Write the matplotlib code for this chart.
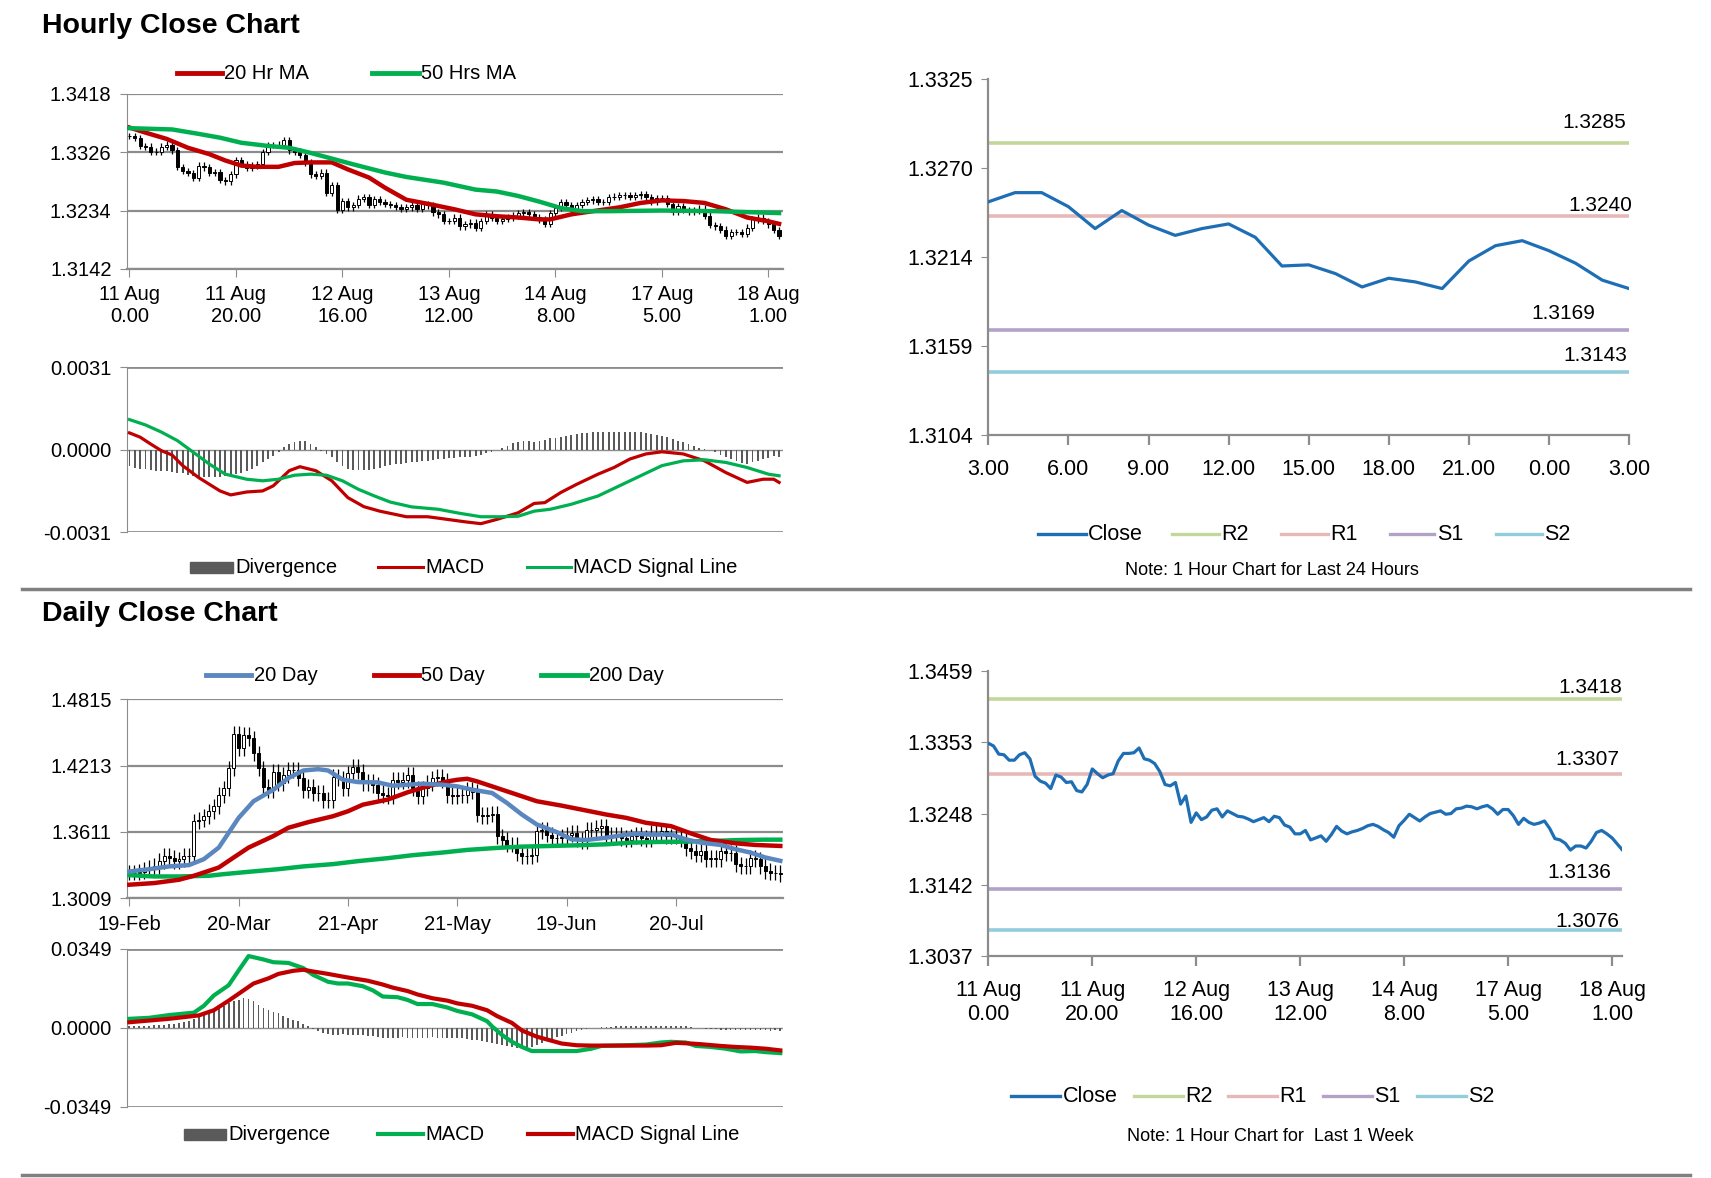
import numpy as np
import matplotlib.pyplot as plt
from matplotlib.lines import Line2D
from matplotlib.patches import Rectangle

plt.rcParams['font.family'] = ['Liberation Sans', 'DejaVu Sans']

# ---------------- data ----------------
# hourly closes, 11 Aug 0.00 -> 18 Aug ~3.00 (used by candles and the 1-week line)
hourly_close = [
    1.3352, 1.3348, 1.3336, 1.3335, 1.3327, 1.3327, 1.3335, 1.3338, 1.3329, 1.3303,
    1.3296, 1.3293, 1.3285, 1.3305, 1.3302, 1.3294, 1.3295, 1.3282, 1.3280, 1.3291,
    1.3314, 1.3307, 1.3301, 1.3305, 1.3307, 1.3326, 1.3337, 1.3337, 1.3338, 1.3345,
    1.3329, 1.3327, 1.3322, 1.3310, 1.3291, 1.3289, 1.3294, 1.3262, 1.3274, 1.3235,
    1.3249, 1.3239, 1.3243, 1.3253, 1.3255, 1.3243, 1.3252, 1.3248, 1.3244, 1.3243,
    1.3240, 1.3236, 1.3239, 1.3242, 1.3236, 1.3244, 1.3242, 1.3231, 1.3228, 1.3218,
    1.3218, 1.3223, 1.3209, 1.3212, 1.3215, 1.3207, 1.3217, 1.3229, 1.3222, 1.3218,
    1.3221, 1.3223, 1.3226, 1.3230, 1.3232, 1.3229, 1.3224, 1.3220, 1.3213, 1.3230,
    1.3238, 1.3247, 1.3242, 1.3237, 1.3243, 1.3248, 1.3250, 1.3252, 1.3247, 1.3248,
    1.3255, 1.3256, 1.3259, 1.3258, 1.3255, 1.3258, 1.3260, 1.3255, 1.3247, 1.3254,
    1.3254, 1.3245, 1.3232, 1.3241, 1.3235, 1.3232, 1.3234, 1.3237, 1.3226, 1.3211,
    1.3209, 1.3204, 1.3194, 1.3200, 1.3200, 1.3197, 1.3207, 1.3220, 1.3223, 1.3218,
    1.3212, 1.3203, 1.3194]

ma20_hr_x = [0, 3, 7, 11, 15, 18, 21, 24, 28, 31, 34, 38, 41, 45, 48, 52, 57, 61, 65, 69,
             73, 77, 79, 83, 87, 92, 96, 100, 104, 108, 112, 116, 120, 122]
ma20_hr = [1.3365, 1.3357, 1.3347, 1.3333, 1.3323, 1.3313, 1.3305, 1.3303, 1.3303, 1.3309,
           1.3310, 1.3310, 1.3299, 1.3286, 1.3270, 1.3251, 1.3243, 1.3236, 1.3228, 1.3225,
           1.3223, 1.3220, 1.3220, 1.3228, 1.3233, 1.3239, 1.3246, 1.3250, 1.3249, 1.3246,
           1.3236, 1.3223, 1.3217, 1.3213]
ma50_hr_x = [0, 8, 13, 17, 21, 26, 30, 34, 38, 42, 48, 52, 59, 65, 69, 73, 77, 81, 85, 90,
             100, 110, 122]
ma50_hr = [1.3364, 1.3362, 1.3355, 1.3349, 1.3341, 1.3336, 1.3333, 1.3325, 1.3316, 1.3307,
           1.3294, 1.3287, 1.3278, 1.3267, 1.3264, 1.3257, 1.3248, 1.3238, 1.3233, 1.3233,
           1.3234, 1.3233, 1.3230]

macd_hr_x = [0, 2, 4, 6, 8, 10, 13, 15, 17, 19, 22, 25, 27, 30, 32, 35, 38, 41, 44, 47,
             52, 56, 59, 63, 66, 69, 73, 76, 78, 81, 84, 88, 91, 94, 97, 100, 104, 108, 112,
             116, 119, 121, 122]
macd_hr = [0.00063, 0.00047, 0.00021, -0.00004, -0.00020, -0.00060, -0.00105, -0.00130,
           -0.00155, -0.00170, -0.00159, -0.00155, -0.00136, -0.00079, -0.00064, -0.00079,
           -0.00117, -0.00180, -0.00214, -0.00231, -0.00252, -0.00252, -0.00260, -0.00271,
           -0.00278, -0.00262, -0.00237, -0.00202, -0.00199, -0.00161, -0.00130, -0.00092,
           -0.00067, -0.00035, -0.00016, -0.00008, -0.00016, -0.00042, -0.00086, -0.00123,
           -0.00111, -0.00111, -0.00123]
signal_hr_x = [0, 3, 6, 9, 12, 15, 18, 22, 25, 28, 31, 34, 37, 40, 43, 46, 49, 53, 58, 62,
               66, 70, 73, 76, 79, 83, 88, 92, 96, 100, 104, 108, 112, 116, 120, 122]
signal_hr = [0.00113, 0.00093, 0.00066, 0.00034, -0.00010, -0.00054, -0.00092, -0.00111,
             -0.00117, -0.00111, -0.00096, -0.00092, -0.00096, -0.00117, -0.00149, -0.00174,
             -0.00197, -0.00215, -0.00224, -0.00239, -0.00252, -0.00252, -0.00250, -0.00231,
             -0.00224, -0.00205, -0.00174, -0.00136, -0.00098, -0.00060, -0.00042, -0.00038,
             -0.00048, -0.00067, -0.00092, -0.00098]
# divergence, in units of 1e-4
div_hr = [
    -6.3, -6.7, -7.1, -7.3, -7.7, -7.9, -8.1, -8.1, -8.3, -8.6,
    -8.9, -9.5, -9.8, -10.1, -10.2, -10.2, -10.1, -10.1, -9.8, -9.6,
    -9.2, -8.6, -7.9, -7.1, -6.0, -4.8, -3.5, -2.3, -1.0, 0.9,
    2.1, 3.0, 3.4, 3.2, 2.1, 0.9, -0.4, -1.6, -2.9, -4.5,
    -6.0, -7.1, -7.6, -7.7, -7.7, -7.6, -7.1, -6.7, -6.3, -5.8,
    -5.4, -5.2, -5.0, -4.8, -4.5, -4.3, -4.2, -3.8, -3.5, -3.4,
    -3.3, -3.0, -2.9, -2.8, -2.6, -2.5, -2.0, -1.4, -0.8, -0.1,
    0.8, 1.5, 2.4, 3.0, 3.2, 3.2, 3.0, 3.3, 3.7, 4.2,
    4.5, 4.9, 5.3, 5.5, 5.8, 6.2, 6.4, 6.6, 6.7, 6.7,
    6.7, 6.7, 6.7, 6.7, 6.7, 6.6, 6.6, 6.4, 6.0, 5.7,
    5.2, 4.7, 4.0, 3.4, 2.8, 2.0, 1.3, 0.6, 0.3, -0.3,
    -1.0, -1.9, -2.6, -3.5, -4.4, -5.0, -5.4, -4.8, -4.2, -3.5,
    -3.0, -2.5, -2.6]

hr_xlabels = ['11 Aug\n0.00', '11 Aug\n20.00', '12 Aug\n16.00', '13 Aug\n12.00',
              '14 Aug\n8.00', '17 Aug\n5.00', '18 Aug\n1.00']
hr_price_ticks = ['1.3142', '1.3234', '1.3326', '1.3418']
hr_macd_ticks = ['-0.0031', '0.0000', '0.0031']

# last 24 hours
close_24h = [1.32486, 1.32543, 1.32543, 1.32456, 1.32320, 1.32432, 1.32342, 1.32278,
             1.32320, 1.32349, 1.32266, 1.32088, 1.32095, 1.32041, 1.31958, 1.32012,
             1.31989, 1.31948, 1.32119, 1.32214, 1.32245, 1.32183, 1.32105, 1.32000,
             1.31948]
labels_24h = ['3.00', '6.00', '9.00', '12.00', '15.00', '18.00', '21.00', '0.00', '3.00']
ticks_24h = ['1.3104', '1.3159', '1.3214', '1.3270', '1.3325']
levels_24h = [1.3285, 1.3240, 1.3169, 1.3143]

# last week levels
ticks_week = ['1.3037', '1.3142', '1.3248', '1.3353', '1.3459']
levels_week = [1.3418, 1.3307, 1.3136, 1.3076]
level_names = ['R2', 'R1', 'S1', 'S2']

# daily closes, 19-Feb -> 18-Aug
daily_close = [
    1.3241, 1.3241, 1.3250, 1.3271, 1.3286, 1.3301, 1.3346, 1.3397, 1.3376, 1.3346,
    1.3361, 1.3391, 1.3391, 1.3707, 1.3722, 1.3752, 1.3798, 1.3843, 1.3948, 1.4008,
    1.4189, 1.4505, 1.4370, 1.4490, 1.4460, 1.4324, 1.4189, 1.4023, 1.3993, 1.4159,
    1.4054, 1.4129, 1.4174, 1.4174, 1.4099, 1.3993, 1.4023, 1.3963, 1.3963, 1.3903,
    1.3897, 1.4114, 1.4099, 1.4008, 1.4144, 1.4204, 1.4159, 1.4054, 1.4069, 1.4038,
    1.3963, 1.3948, 1.3933, 1.4084, 1.4069, 1.4084, 1.4129, 1.4008, 1.3933, 1.4008,
    1.4054, 1.4099, 1.4114, 1.4078, 1.3948, 1.3933, 1.3948, 1.3948, 1.3993, 1.3978,
    1.3768, 1.3752, 1.3768, 1.3777, 1.3572, 1.3542, 1.3497, 1.3497, 1.3421, 1.3391,
    1.3391, 1.3406, 1.3617, 1.3632, 1.3587, 1.3557, 1.3557, 1.3566, 1.3587, 1.3602,
    1.3542, 1.3527, 1.3632, 1.3632, 1.3647, 1.3662, 1.3572, 1.3587, 1.3587, 1.3557,
    1.3542, 1.3572, 1.3587, 1.3557, 1.3542, 1.3602, 1.3602, 1.3617, 1.3572, 1.3572,
    1.3572, 1.3542, 1.3467, 1.3436, 1.3406, 1.3436, 1.3361, 1.3376, 1.3361, 1.3436,
    1.3421, 1.3421, 1.3316, 1.3301, 1.3301, 1.3376, 1.3361, 1.3301, 1.3256, 1.3241,
    1.3241, 1.3226]

ma20_d_x = [0, 4, 8, 12, 15, 18, 20, 22, 25, 29, 32, 35, 38, 40, 43, 46, 50, 53, 56, 59,
            63, 66, 69, 73, 76, 79, 82, 86, 89, 92, 96, 99, 102, 105, 109, 112, 115, 119,
            122, 125, 128, 131]
ma20_d = [1.3252, 1.3273, 1.3298, 1.3310, 1.3364, 1.3469, 1.3604, 1.3739, 1.3890, 1.3995,
          1.4100, 1.4169, 1.4181, 1.4169, 1.4085, 1.4064, 1.4061, 1.4031, 1.4040, 1.4049,
          1.4040, 1.4025, 1.3995, 1.3965, 1.3874, 1.3769, 1.3679, 1.3610, 1.3544, 1.3538,
          1.3559, 1.3580, 1.3595, 1.3586, 1.3589, 1.3544, 1.3514, 1.3493, 1.3454, 1.3424,
          1.3379, 1.3349]
ma50_d_x = [0, 5, 10, 13, 18, 21, 24, 29, 32, 36, 41, 44, 47, 52, 56, 60, 64, 66, 68, 70,
            74, 78, 82, 87, 91, 96, 100, 104, 109, 113, 117, 122, 126, 131]
ma50_d = [1.3132, 1.3147, 1.3177, 1.3213, 1.3288, 1.3379, 1.3469, 1.3574, 1.3649, 1.3700,
          1.3754, 1.3799, 1.3859, 1.3905, 1.3971, 1.4025, 1.4070, 1.4085, 1.4094, 1.4070,
          1.4010, 1.3950, 1.3890, 1.3850, 1.3814, 1.3769, 1.3739, 1.3694, 1.3664, 1.3598,
          1.3538, 1.3508, 1.3493, 1.3484]
ma200_d_x = [0, 5, 10, 16, 19, 24, 30, 35, 41, 46, 52, 57, 63, 68, 74, 79, 85, 90, 96, 101,
             106, 112, 117, 123, 128, 131]
ma200_d = [1.3219, 1.3207, 1.3207, 1.3213, 1.3228, 1.3249, 1.3273, 1.3298, 1.3319, 1.3346,
           1.3373, 1.3400, 1.3424, 1.3448, 1.3466, 1.3478, 1.3484, 1.3490, 1.3499, 1.3514,
           1.3520, 1.3523, 1.3529, 1.3538, 1.3541, 1.3541]

macd_d_x = [0, 4, 8, 13, 15, 17, 20, 22, 24, 27, 29, 32, 35, 37, 40, 42, 44, 47, 49, 51,
            54, 56, 58, 61, 64, 66, 69, 72, 73, 75, 77, 79, 81, 84, 86, 90, 93, 95, 100, 104,
            107, 109, 112, 114, 117, 120, 123, 126, 128, 131]
macd_d = [0.00393, 0.00438, 0.00559, 0.00665, 0.00967, 0.01420, 0.01874, 0.02523, 0.03158,
          0.03007, 0.02886, 0.02856, 0.02629, 0.02327, 0.02025, 0.01949, 0.01949, 0.01828,
          0.01647, 0.01375, 0.01345, 0.01224, 0.01043, 0.01043, 0.00891, 0.00740, 0.00589,
          0.00287, 0.00060, -0.00317, -0.00620, -0.00846, -0.01027, -0.01027, -0.01027,
          -0.01027, -0.00922, -0.00801, -0.00771, -0.00740, -0.00650, -0.00620, -0.00650,
          -0.00801, -0.00846, -0.00922, -0.01043, -0.01027, -0.01073, -0.01118]
signal_d_x = [0, 4, 8, 11, 14, 17, 20, 23, 25, 28, 30, 33, 35, 37, 40, 43, 45, 48, 51, 53,
              56, 58, 61, 64, 66, 69, 72, 74, 77, 79, 82, 85, 87, 90, 93, 97, 100, 104, 107,
              110, 113, 115, 119, 122, 125, 128, 131]
signal_d = [0.00242, 0.00317, 0.00393, 0.00468, 0.00544, 0.00771, 0.01194, 0.01647, 0.01949,
            0.02176, 0.02372, 0.02508, 0.02554, 0.02478, 0.02372, 0.02251, 0.02176, 0.02070,
            0.01904, 0.01768, 0.01617, 0.01466, 0.01299, 0.01194, 0.01073, 0.00967, 0.00771,
            0.00514, 0.00212, -0.00121, -0.00393, -0.00574, -0.00695, -0.00771, -0.00786,
            -0.00786, -0.00786, -0.00786, -0.00771, -0.00665, -0.00695, -0.00725, -0.00801,
            -0.00846, -0.00876, -0.00922, -0.00997]
# divergence, in units of 1e-3
div_d = [
    0.76, 0.76, 0.76, 0.91, 0.91, 1.06, 1.21, 1.36, 1.51, 1.81,
    2.12, 2.57, 3.17, 3.93, 4.68, 5.59, 6.50, 7.40, 8.61, 9.67,
    10.73, 11.63, 12.39, 12.99, 12.69, 11.63, 10.12, 8.61, 7.71, 7.10,
    6.35, 5.14, 4.38, 3.63, 2.87, 1.66, 0.60, -0.45, -1.36, -2.27,
    -2.87, -3.17, -3.02, -2.87, -3.02, -3.17, -3.32, -3.32, -3.48, -3.63,
    -3.93, -4.38, -4.53, -4.38, -4.38, -4.23, -4.38, -4.53, -4.68, -4.53,
    -4.38, -4.23, -4.38, -4.38, -4.53, -4.38, -4.38, -4.68, -4.99, -5.29,
    -5.59, -5.89, -6.20, -6.50, -7.10, -7.71, -8.16, -8.46, -8.91, -9.22,
    -8.91, -8.31, -7.40, -6.50, -5.74, -4.99, -4.23, -3.48, -2.72, -2.12,
    -1.51, -1.06, -0.60, -0.30, 0.0, 0.15, 0.30, 0.45, 0.60, 0.60,
    0.60, 0.60, 0.60, 0.60, 0.60, 0.60, 0.60, 0.60, 0.60, 0.60,
    0.60, 0.60, 0.60, 0.30, 0.0, -0.30, -0.60, -0.76, -0.76, -0.91,
    -0.91, -1.06, -1.06, -1.21, -1.06, -1.06, -1.21, -1.21, -1.21, -1.36,
    -1.21, -1.36]

d_xlabels = ['19-Feb', '20-Mar', '21-Apr', '21-May', '19-Jun', '20-Jul']
d_price_ticks = ['1.3009', '1.3611', '1.4213', '1.4815']
d_macd_ticks = ['-0.0349', '0.0000', '0.0349']

# ---------------- style ----------------
RED = '#C00000'
GREEN = '#00B050'
BLUE = '#5B87C0'
CLOSE = '#1E6EB5'
GRID = '#8C8C8C'
DIV = '#5A5A5A'
LEVEL_COLORS = ['#C4D79B', '#E6B9B8', '#B3A2C7', '#92CDDC']

W, H = 1565.0, 1078.0   # layout grid measured on the reference


def box(x0, y0, x1, y1):
    return [x0 / W, 1 - y1 / H, (x1 - x0) / W, (y1 - y0) / H]


fig = plt.figure(figsize=(17.11, 11.78), dpi=100)


def candles(ax, close, wick, width):
    c = np.asarray(close)
    o = np.r_[c[0], c[:-1]]
    x = np.arange(len(c))
    top, bot = np.maximum(o, c), np.minimum(o, c)
    ax.vlines(x, bot - wick, top + wick, color='black', lw=0.9, zorder=2)
    cols = ['white' if ci >= oi else 'black' for oi, ci in zip(o, c)]
    ax.bar(x, top - bot, bottom=bot, width=width, color=cols,
           edgecolor='black', lw=0.7, zorder=3)


def price_axes(ax, ticks, xticks, xlabels, xmax, fs=14.5):
    vals = [float(t) for t in ticks]
    ax.set_ylim(vals[0], vals[-1])
    ax.set_yticks(vals)
    ax.set_yticklabels(ticks)
    ax.set_xlim(-0.5, xmax)
    ax.set_xticks(xticks)
    ax.set_xticklabels(xlabels)
    ax.grid(axis='y', color=GRID, lw=1.6)
    ax.set_axisbelow(True)
    for s in ['top', 'right']:
        ax.spines[s].set_visible(False)
    ax.spines['left'].set_color(GRID)
    ax.spines['bottom'].set_color(GRID)
    ax.spines['bottom'].set_linewidth(1.6)
    ax.tick_params(axis='y', length=5, color=GRID, labelsize=fs, pad=6)
    ax.tick_params(axis='x', length=6, color=GRID, labelsize=fs, pad=6)


def macd_axes(ax, ticks, xmax, fs=14.5):
    vals = [float(t) for t in ticks]
    ax.set_ylim(vals[0], vals[-1])
    ax.set_yticks(vals)
    ax.set_yticklabels(ticks)
    ax.set_xlim(-0.5, xmax)
    ax.set_xticks([])
    for v in vals:
        ax.axhline(v, color=GRID, lw=2.0 if v != 0 else 1.0, zorder=1)
    for s in ['top', 'right', 'bottom']:
        ax.spines[s].set_visible(False)
    ax.spines['left'].set_color(GRID)
    ax.tick_params(axis='y', length=5, color=GRID, labelsize=fs, pad=6)


def level_axes(ax, close, levels, ticks, xticks, xlabels, offsets):
    x = np.arange(len(close))
    for v, col in zip(levels, LEVEL_COLORS):
        ax.hlines(v, x[0], x[-1], color=col, lw=2.6, zorder=2)
    ax.plot(x, close, color=CLOSE, lw=2.3, zorder=3)
    for v, (dx, dy) in zip(levels, offsets):
        ax.annotate(f'{v:.4f}', xy=(x[-1], v), xytext=(dx, dy), textcoords='offset points',
                    ha='right', va='center', fontsize=15)
    lo, hi = float(ticks[0]), float(ticks[-1])
    ax.set_ylim(lo, hi)
    ax.set_yticks(np.linspace(lo, hi, len(ticks)))
    ax.set_yticklabels(ticks)
    ax.set_xlim(x[0], x[-1])
    ax.set_xticks(xticks)
    ax.set_xticklabels(xlabels)
    for s in ['top', 'right']:
        ax.spines[s].set_visible(False)
    for s in ['left', 'bottom']:
        ax.spines[s].set_color(GRID)
        ax.spines[s].set_linewidth(1.6)
    ax.tick_params(axis='y', length=5, color=GRID, labelsize=15.5, pad=6)
    ax.tick_params(axis='x', length=7, width=1.6, color=GRID, labelsize=15.5, pad=10)


def legend_row(items, y, lw, fs=14.5):
    yf = 1 - y / H
    for kind, x0, x1, color, label in items:
        if kind == 'box':
            fig.add_artist(Rectangle((x0 / W, yf - 5 / H), (x1 - x0) / W, 10 / H,
                                     color=color, transform=fig.transFigure))
        else:
            fig.add_artist(Line2D([x0 / W, x1 / W], [yf, yf], color=color, lw=lw,
                                  transform=fig.transFigure))
        fig.text((x1 + 2) / W, yf, label, ha='left', va='center', fontsize=fs)


def separator(y):
    fig.add_artist(Line2D([20 / W, 1546 / W], [1 - y / H] * 2, color='#808080', lw=2.5,
                          transform=fig.transFigure))


# ---------------- hourly block ----------------
fig.text(38 / W, 1 - 24 / H, 'Hourly Close Chart', fontsize=20.5, fontweight='bold',
         va='center', ha='left')

ax1 = fig.add_axes(box(116, 86, 716, 246))
candles(ax1, hourly_close, 0.0005, 0.6)
ax1.plot(ma20_hr_x, ma20_hr, color=RED, lw=3.2, zorder=4)
ax1.plot(ma50_hr_x, ma50_hr, color=GREEN, lw=3.2, zorder=4)
price_axes(ax1, hr_price_ticks, range(0, 121, 20), hr_xlabels, 122.7)
legend_row([('line', 162, 203, RED, '20 Hr MA'), ('line', 340, 383, GREEN, '50 Hrs MA')],
           67, 3.5)

ax2 = fig.add_axes(box(116, 336, 716, 487))
ax2.bar(np.arange(len(div_hr)), np.asarray(div_hr) * 1e-4, width=0.35, color=DIV, zorder=2)
ax2.plot(macd_hr_x, macd_hr, color=RED, lw=2.3, zorder=3)
ax2.plot(signal_hr_x, signal_hr, color=GREEN, lw=2.3, zorder=3)
macd_axes(ax2, hr_macd_ticks, 122.7)
legend_row([('box', 174, 213, DIV, 'Divergence'), ('line', 346, 387, RED, 'MACD'),
            ('line', 482, 522, GREEN, 'MACD Signal Line')], 519, 2.2)

ax3 = fig.add_axes(box(904, 72, 1490, 398))
level_axes(ax3, close_24h, levels_24h, ticks_24h, range(0, 25, 3), labels_24h,
           [(-2, 15), (2, 7), (-24, 12), (-1, 12)])
legend_row([('line', 949, 993, CLOSE, 'Close')] +
           [('line', a, b, c, n) for (a, b), c, n in
            zip([(1072, 1115), (1172, 1215), (1271, 1312), (1368, 1410)],
                LEVEL_COLORS, level_names)], 489, 2.4, fs=15.5)
fig.text(1163 / W, 1 - 522 / H, 'Note: 1 Hour Chart for Last 24 Hours', ha='center',
         va='center', fontsize=13)

separator(539)

# ---------------- daily block ----------------
fig.text(38 / W, 1 - 562 / H, 'Daily Close Chart', fontsize=20.5, fontweight='bold',
         va='center', ha='left')

ax4 = fig.add_axes(box(116, 640, 716, 822))
candles(ax4, daily_close, 0.007, 0.6)
ax4.plot(ma200_d_x, ma200_d, color=GREEN, lw=3.2, zorder=4)
ax4.plot(ma50_d_x, ma50_d, color=RED, lw=3.2, zorder=4)
ax4.plot(ma20_d_x, ma20_d, color=BLUE, lw=3.2, zorder=4)
price_axes(ax4, d_price_ticks, range(0, 111, 22), d_xlabels, 131.5)
legend_row([('line', 188, 230, BLUE, '20 Day'), ('line', 342, 383, RED, '50 Day'),
            ('line', 495, 537, GREEN, '200 Day')], 618, 3.5)

ax5 = fig.add_axes(box(116, 868, 716, 1013))
ax5.bar(np.arange(len(div_d)), np.asarray(div_d) * 1e-3, width=0.35, color=DIV, zorder=2)
ax5.plot(macd_d_x, macd_d, color=GREEN, lw=3.0, zorder=3)
ax5.plot(signal_d_x, signal_d, color=RED, lw=3.0, zorder=3)
macd_axes(ax5, d_macd_ticks, 131.5)
legend_row([('box', 168, 207, DIV, 'Divergence'), ('line', 346, 387, GREEN, 'MACD'),
            ('line', 483, 524, RED, 'MACD Signal Line')], 1038, 3.0)

ax6 = fig.add_axes(box(904, 614, 1484, 875))
level_axes(ax6, hourly_close, levels_week, ticks_week, range(0, 121, 20), hr_xlabels,
           [(0, 8), (-2, 10), (-8, 12), (-2, 6)])
legend_row([('line', 925, 970, CLOSE, 'Close')] +
           [('line', a, b, c, n) for (a, b), c, n in
            zip([(1037, 1082), (1123, 1168), (1210, 1255), (1296, 1341)],
                LEVEL_COLORS, level_names)], 1003, 2.4, fs=15.5)
fig.text(1162 / W, 1 - 1040 / H, 'Note: 1 Hour Chart for  Last 1 Week', ha='center',
         va='center', fontsize=13)

separator(1075)

fig.savefig('out.png', dpi=100, facecolor='white')
